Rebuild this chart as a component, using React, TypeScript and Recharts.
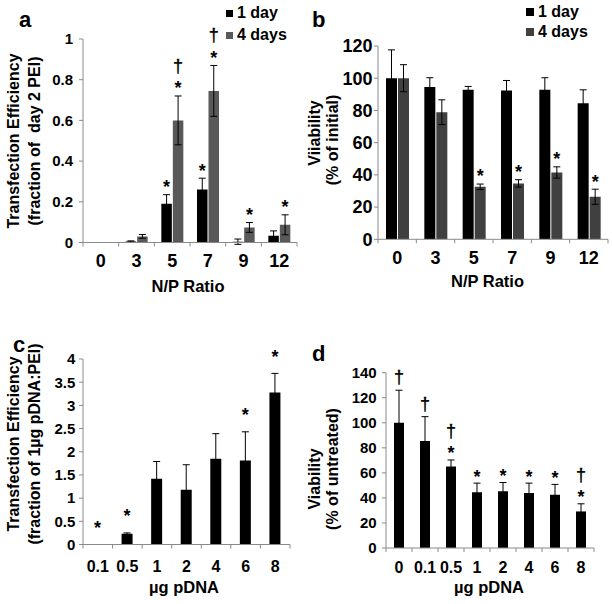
import React from "react";
import { Bar, BarChart, ErrorBar, LabelList, Legend, XAxis, YAxis } from "recharts";

// panel a: transfection efficiency vs N/P ratio
const NP_RATIOS = ["0", "3", "5", "7", "9", "12"];
const TE_1DAY = [0, 0.005, 0.19, 0.26, 0.004, 0.033];
const TE_1DAY_ERR = [0, 0.003, 0.045, 0.056, 0.013, 0.024];
const TE_1DAY_MARK = ["", "", "*", "*", "", ""];
const TE_4DAY = [0, 0.03, 0.6, 0.745, 0.074, 0.087];
const TE_4DAY_ERR = [0, 0.009, 0.12, 0.125, 0.024, 0.049];
const TE_4DAY_MARK = ["", "", "†*", "†*", "*", "*"];

// panel b: viability vs N/P ratio
const VIA_1DAY = [100, 94.5, 92.8, 92.4, 92.8, 84.5];
const VIA_1DAY_ERR = [17.6, 5.8, 2.1, 6.2, 7.5, 8.3];
const VIA_1DAY_MARK = ["", "", "", "", "", ""];
const VIA_4DAY = [100, 78.9, 32.6, 34.7, 41.5, 26.4];
const VIA_4DAY_ERR = [8.4, 7.7, 1.7, 2.3, 3.5, 4.7];
const VIA_4DAY_MARK = ["", "", "*", "*", "*", "*"];

// panel c: transfection efficiency vs pDNA dose
const DOSES_C = ["0.1", "0.5", "1", "2", "4", "6", "8"];
const TE_DOSE = [0.004, 0.23, 1.42, 1.18, 1.85, 1.81, 3.28];
const TE_DOSE_ERR = [0, 0.02, 0.37, 0.54, 0.54, 0.62, 0.41];
const TE_DOSE_MARK = ["*", "*", "", "", "", "*", "*"];

// panel d: viability vs pDNA dose
const DOSES_D = ["0", "0.1", "0.5", "1", "2", "4", "6", "8"];
const VIA_DOSE = [100, 85.5, 65, 44.5, 45.3, 44, 42.5, 29.2];
const VIA_DOSE_ERR = [26, 19.4, 5.3, 7.3, 7, 7.8, 8.3, 6.1];
const VIA_DOSE_MARK = ["†", "†", "†*", "*", "*", "*", "*", "†*"];

const FONT = "'Liberation Sans', Arial, Helvetica, sans-serif";
const AXIS_GREY = "#8a8a8a";

interface Series {
  name: string;
  values: number[];
  errs: number[];
  marks: string[];
  color: string;
}

interface PanelProps {
  left: number;
  top: number;
  width: number;
  height: number;
  marginTop: number;
  marginRight: number;
  yWidth: number;
  xHeight: number;
  yMax: number;
  yTicks: number[];
  yTickMargin: number;
  yTickFont: number;
  xTickFont: number;
  xTickMargin: number;
  categories: string[];
  series: Series[];
  barSize: number;
  barGap?: number;
  markGap: number;
  letter: { text: string; x: number; y: number };
  yTitle: { text: string; x: number; y: number }[];
  xTitle: { text: string; x: number; y: number };
  legend?: { left: number; top: number; lineHeight: number; square: number };
}

// label value is "marks|error", so the error bar top can be found without relying on index
function markRenderer(ppu: number, gap: number) {
  return (props: any) => {
    const { x, y, width, value } = props;
    const [mark, err] = String(value ?? "").split("|");
    if (!mark) return null;
    const cx = Number(x) + Number(width) / 2;
    const errTop = Number(y) - Number(err || 0) * ppu;
    const star = mark.includes("*");
    const dagger = mark.includes("†");
    const starCenter = errTop - gap;
    const daggerCenter = star ? starCenter - 18 : errTop - gap - 2;
    return (
      <g>
        {star && (
          <text x={cx} y={starCenter + 9.4} textAnchor="middle" fontSize={18} fontWeight="bold" fontFamily={FONT} fill="#000">
            *
          </text>
        )}
        {dagger && (
          <text
            x={cx}
            y={daggerCenter + 4.9}
            textAnchor="middle"
            fontSize={18}
            fontFamily={FONT}
            fill="#000"
            stroke="#000"
            strokeWidth={0.4}
          >
            †
          </text>
        )}
      </g>
    );
  };
}

function xTickRenderer(font: number, band: number, count: number, tickMargin: number) {
  return (props: any) => {
    const { x, y, payload, index } = props;
    const axisY = y - tickMargin;
    return (
      <g>
        <line x1={x - band / 2} x2={x - band / 2} y1={axisY} y2={axisY + 4} stroke={AXIS_GREY} />
        {index === count - 1 && <line x1={x + band / 2} x2={x + band / 2} y1={axisY} y2={axisY + 4} stroke={AXIS_GREY} />}
        <text x={x} y={y} dy="0.71em" textAnchor="middle" fontSize={font} fontWeight="bold" fontFamily={FONT} fill="#000">
          {payload.value}
        </text>
      </g>
    );
  };
}

function Panel(p: PanelProps) {
  const plotH = p.height - p.marginTop - p.xHeight;
  const plotW = p.width - p.yWidth - p.marginRight;
  const ppu = plotH / p.yMax;
  const band = plotW / p.categories.length;
  const data = p.categories.map((c, i) => {
    const row: Record<string, string | number | null> = { cat: c };
    p.series.forEach((s, k) => {
      row["v" + k] = s.values[i];
      row["e" + k] = s.errs[i] || null;
      row["m" + k] = `${s.marks[i]}|${s.errs[i]}`;
    });
    return row;
  });

  const titles = () => (
    <g fontFamily={FONT} fontWeight="bold" fill="#000">
      <text x={p.letter.x} y={p.letter.y} fontSize={22}>
        {p.letter.text}
      </text>
      {p.yTitle.map((t) => (
        <text
          key={t.text}
          x={t.x}
          y={t.y}
          fontSize={16}
          textAnchor="middle"
          transform={`rotate(-90 ${t.x} ${t.y})`}
          style={{ whiteSpace: "pre" }}
        >
          {t.text}
        </text>
      ))}
    </g>
  );

  const legendContent = (props: any) => {
    const lg = p.legend!;
    return (
      <div style={{ fontFamily: FONT, fontWeight: "bold", fontSize: 16, color: "#000" }}>
        {(props.payload || []).map((item: any) => (
          <div key={item.value} style={{ display: "flex", alignItems: "center", height: lg.lineHeight, whiteSpace: "nowrap" }}>
            <span style={{ display: "inline-block", width: lg.square, height: lg.square, background: item.color, marginRight: 4 }} />
            {item.value}
          </div>
        ))}
      </div>
    );
  };

  return (
    <div style={{ position: "absolute", left: p.left, top: p.top, width: p.width, height: p.height }}>
      <BarChart
        width={p.width}
        height={p.height}
        data={data}
        margin={{ top: p.marginTop, right: p.marginRight, bottom: 0, left: 0 }}
        barGap={p.barGap ?? 1}
        barCategoryGap={0}
      >
        <XAxis
          dataKey="cat"
          height={p.xHeight}
          stroke={AXIS_GREY}
          tickLine={false}
          tickSize={0}
          tickMargin={p.xTickMargin}
          interval={0}
          tick={xTickRenderer(p.xTickFont, band, p.categories.length, p.xTickMargin)}
          label={{
            content: () => (
              <text
                x={p.xTitle.x}
                y={p.xTitle.y}
                textAnchor="middle"
                fontSize={16.5}
                fontWeight="bold"
                fontFamily={FONT}
                fill="#000"
              >
                {p.xTitle.text}
              </text>
            ),
          }}
        />
        <YAxis
          width={p.yWidth}
          domain={[0, p.yMax]}
          ticks={p.yTicks}
          allowDataOverflow
          stroke={AXIS_GREY}
          tickSize={4}
          tickMargin={p.yTickMargin}
          tick={{ fill: "#000", fontSize: p.yTickFont, fontWeight: "bold", fontFamily: FONT }}
          label={{ content: titles }}
        />
        {p.legend && (
          <Legend
            layout="vertical"
            align="center"
            verticalAlign="middle"
            wrapperStyle={{ left: p.legend.left, top: p.legend.top, width: "auto" }}
            content={legendContent}
          />
        )}
        {p.series.map((s, k) => (
          <Bar key={s.name} dataKey={"v" + k} name={s.name} fill={s.color} barSize={p.barSize} isAnimationActive={false}>
            <ErrorBar dataKey={"e" + k} width={3.5} stroke="#000" strokeWidth={1} direction="y" />
            <LabelList dataKey={"m" + k} content={markRenderer(ppu, p.markGap)} />
          </Bar>
        ))}
      </BarChart>
    </div>
  );
}

export default function App() {
  return (
    <div style={{ position: "absolute", left: 0, top: 0, width: 612, height: 604, background: "#fff", overflow: "hidden" }}>
      <Panel
        left={0}
        top={0}
        width={306}
        height={300}
        marginTop={39}
        marginRight={9}
        yWidth={83}
        xHeight={57.5}
        yMax={1}
        yTicks={[0, 0.2, 0.4, 0.6, 0.8, 1]}
        yTickMargin={6}
        yTickFont={15}
        xTickFont={18}
        xTickMargin={12}
        categories={NP_RATIOS}
        series={[
          { name: "1 day", values: TE_1DAY, errs: TE_1DAY_ERR, marks: TE_1DAY_MARK, color: "#000000" },
          { name: "4 days", values: TE_4DAY, errs: TE_4DAY_ERR, marks: TE_4DAY_MARK, color: "#595959" },
        ]}
        barSize={10.5}
        markGap={11}
        letter={{ text: "a", x: 19, y: 27 }}
        yTitle={[
          { text: "Transfection Efficiency", x: 19, y: 141 },
          { text: "(fraction of  day 2 PEI)", x: 39.5, y: 141 },
        ]}
        xTitle={{ text: "N/P Ratio", x: 188, y: 292 }}
        legend={{ left: 226, top: 2, lineHeight: 22, square: 7 }}
      />
      <Panel
        left={306}
        top={0}
        width={306}
        height={300}
        marginTop={46}
        marginRight={4}
        yWidth={72}
        xHeight={60.7}
        yMax={120}
        yTicks={[0, 20, 40, 60, 80, 100, 120]}
        yTickMargin={1.5}
        yTickFont={18}
        xTickFont={18}
        xTickMargin={12}
        categories={NP_RATIOS}
        series={[
          { name: "1 day", values: VIA_1DAY, errs: VIA_1DAY_ERR, marks: VIA_1DAY_MARK, color: "#000000" },
          { name: "4 days", values: VIA_4DAY, errs: VIA_4DAY_ERR, marks: VIA_4DAY_MARK, color: "#404040" },
        ]}
        barSize={11}
        markGap={11}
        letter={{ text: "b", x: 6, y: 27 }}
        yTitle={[
          { text: "Viiability", x: 14, y: 133 },
          { text: "(% of initial)", x: 32, y: 140 },
        ]}
        xTitle={{ text: "N/P Ratio", x: 181.5, y: 287 }}
        legend={{ left: 220, top: 2, lineHeight: 20, square: 8 }}
      />
      <Panel
        left={0}
        top={300}
        width={306}
        height={304}
        marginTop={59}
        marginRight={16}
        yWidth={83}
        xHeight={59.5}
        yMax={4}
        yTicks={[0, 0.5, 1, 1.5, 2, 2.5, 3, 3.5, 4]}
        yTickMargin={3.7}
        yTickFont={15}
        xTickFont={16}
        xTickMargin={16}
        categories={DOSES_C}
        series={[{ name: "TE", values: TE_DOSE, errs: TE_DOSE_ERR, marks: TE_DOSE_MARK, color: "#000000" }]}
        barSize={11}
        markGap={20}
        letter={{ text: "c", x: 13, y: 52 }}
        yTitle={[
          { text: "Transfection Efficiency", x: 19, y: 144 },
          { text: "(fraction of 1µg pDNA:PEI)", x: 39.5, y: 144 },
        ]}
        xTitle={{ text: "µg pDNA", x: 184, y: 293 }}
      />
      <Panel
        left={306}
        top={300}
        width={306}
        height={304}
        marginTop={72.7}
        marginRight={18}
        yWidth={80}
        xHeight={56}
        yMax={140}
        yTicks={[0, 20, 40, 60, 80, 100, 120, 140]}
        yTickMargin={5.3}
        yTickFont={15}
        xTickFont={16}
        xTickMargin={14}
        categories={DOSES_D}
        series={[{ name: "Viability", values: VIA_DOSE, errs: VIA_DOSE_ERR, marks: VIA_DOSE_MARK, color: "#000000" }]}
        barSize={10}
        markGap={10}
        letter={{ text: "d", x: 6, y: 61 }}
        yTitle={[
          { text: "Viability", x: 14, y: 179 },
          { text: "(% of untreated)", x: 32, y: 169 },
        ]}
        xTitle={{ text: "µg pDNA", x: 183, y: 293 }}
      />
    </div>
  );
}
